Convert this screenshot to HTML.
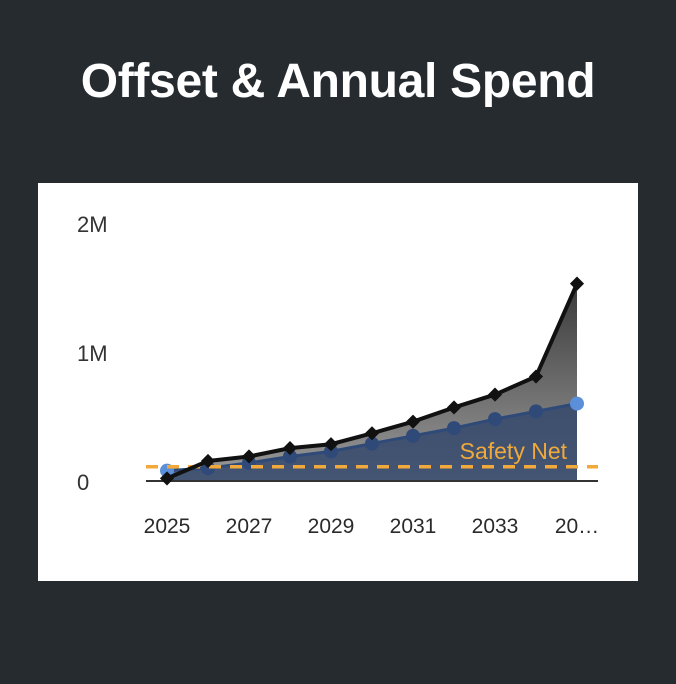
<!DOCTYPE html>
<html><head><meta charset="utf-8"><style>
html,body{margin:0;padding:0;background:#262b30;width:676px;height:684px;overflow:hidden}
#title{position:absolute;left:0;top:54px;width:676px;text-align:center;color:#fff;font:bold 48px "Liberation Sans",sans-serif;letter-spacing:-0.3px}
#card{position:absolute;left:38px;top:183px;width:600px;height:398px;background:#fff}
</style></head><body>
<div id="title">Offset &amp; Annual Spend</div>
<div id="card">
<svg id="chart" width="600" height="398"></svg>
</div>
<script>
const years=[2025,2026,2027,2028,2029,2030,2031,2032,2033,2034,2035];
const offset=[0.02,0.155,0.19,0.255,0.285,0.37,0.46,0.57,0.67,0.81,1.53];
const spend=[0.08,0.10,0.14,0.19,0.23,0.29,0.35,0.41,0.48,0.54,0.60];
const safetyNet=0.11;
const yTicks=[0,1,2];
const yTickLabels=["0","1M","2M"];
const xTickLabels=["2025","2027","2029","2031","2033","20…"];
const NS="http://www.w3.org/2000/svg";
const svg=document.getElementById('chart');
const ox=38,oy=183;
const x=i=>167-ox+i*41;
const y=v=>481-oy-v*129;
function mk(t,a){const e=document.createElementNS(NS,t);for(const k in a)e.setAttribute(k,a[k]);svg.appendChild(e);return e;}
const defs=mk('defs',{});
defs.innerHTML='<linearGradient id="g1" x1="0" y1="0" x2="0" y2="1"><stop offset="0" stop-color="#3a3a3a"/><stop offset="1" stop-color="#9a9a9a"/></linearGradient>';
yTicks.forEach((t,i)=>{const e=mk('text',{x:77-ox,y:y(t)+9,'font-size':22,'font-family':'Liberation Sans, sans-serif',fill:'#333'});e.textContent=yTickLabels[i];

});
xTickLabels.forEach((l,i)=>{const e=mk('text',{x:x(i*2),y:533-oy,'text-anchor':'middle','font-size':21,'font-family':'Liberation Sans, sans-serif',fill:'#2a2a2a'});e.textContent=l;

});
let d='M'+x(0)+','+y(0);offset.forEach((v,i)=>d+='L'+x(i)+','+y(v));d+='L'+x(offset.length-1)+','+y(0)+'Z';
let a=mk('path',{d:d,fill:'url(#g1)'});


d='M'+x(0)+','+y(0);spend.forEach((v,i)=>d+='L'+x(i)+','+y(v));d+='L'+x(spend.length-1)+','+y(0)+'Z';
a=mk('path',{d:d,fill:'#34496b','fill-opacity':0.85});


let l=mk('polyline',{points:spend.map((v,i)=>x(i)+','+y(v)).join(' '),fill:'none',stroke:'#2f4a78','stroke-width':3});


spend.forEach((v,i)=>{const c=mk('circle',{cx:x(i),cy:y(v),r:7,fill:i==0||i==10?'#5b8fd9':'#2f4a78'});

});
a=mk('line',{x1:146-ox,x2:598-ox,y1:y(0),y2:y(0),stroke:'#333','stroke-width':2});


a=mk('line',{x1:146-ox,x2:598-ox,y1:y(safetyNet),y2:y(safetyNet),stroke:'#f0a93a','stroke-width':3.5,'stroke-dasharray':'12 9'});


a=mk('text',{x:567-ox,y:y(safetyNet)-8,'text-anchor':'end','font-size':23,'font-family':'Liberation Sans, sans-serif',fill:'#f0a93a'});a.textContent='Safety Net';


l=mk('polyline',{points:offset.map((v,i)=>x(i)+','+y(v)).join(' '),fill:'none',stroke:'#111','stroke-width':4,'stroke-linejoin':'round'});


offset.forEach((v,i)=>{const p=mk('rect',{x:x(i)-5,y:y(v)-5,width:10,height:10,fill:'#111',transform:'rotate(45 '+x(i)+' '+y(v)+')'});

});
</script>
</body></html>
